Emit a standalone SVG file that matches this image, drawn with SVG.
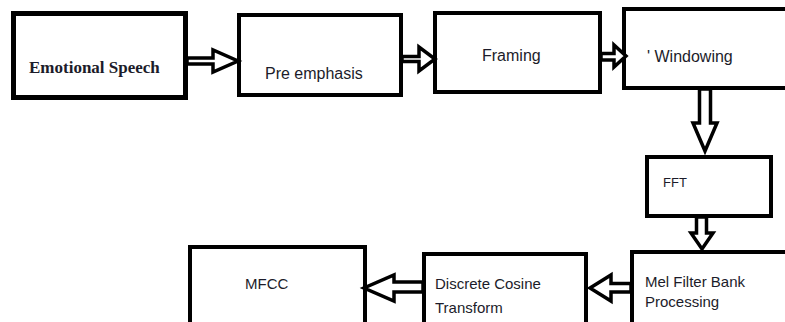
<svg xmlns="http://www.w3.org/2000/svg" width="785" height="322" viewBox="0 0 785 322">
  <style>
    .box { fill: #ffffff; stroke: #000000; stroke-width: 4; }
    .arrow { fill: #ffffff; stroke: #000000; stroke-width: 3.5; stroke-linejoin: miter; }
    .lbl { font-family: "Liberation Sans", Arial, sans-serif; font-size: 15px; fill: #1c1c2a; }
    .serif { font-family: "Liberation Serif", "Times New Roman", serif; font-size: 17px; font-weight: bold; fill: #1c1c2a; }
  </style>
  <rect width="785" height="322" fill="#ffffff"/>

  <g id="emotional-speech">
    <rect class="box" x="13.5" y="13.5" width="172" height="84" style="stroke-width:5"/>
    <text class="serif" x="29" y="73">Emotional Speech</text>
  </g>

  <g id="pre-emphasis">
    <rect class="box" x="239" y="15" width="162" height="80"/>
    <text class="lbl" x="265" y="79" style="font-size:16px">Pre emphasis</text>
  </g>

  <g id="framing">
    <rect class="box" x="435" y="13" width="165" height="79"/>
    <text class="lbl" x="482" y="61" style="font-size:16px">Framing</text>
  </g>

  <g id="windowing">
    <rect class="box" x="624" y="9" width="170" height="79"/>
    <text class="lbl" x="647" y="62" style="font-size:16px">' Windowing</text>
  </g>

  <g id="fft">
    <rect class="box" x="647" y="157" width="124" height="59"/>
    <text class="lbl" x="663" y="187" style="font-size:13px">FFT</text>
  </g>

  <g id="mel-filter-bank">
    <rect class="box" x="632" y="252" width="160" height="80"/>
    <text class="lbl" x="645" y="287">Mel Filter Bank</text>
    <text class="lbl" x="645" y="307">Processing</text>
  </g>

  <g id="dct">
    <rect class="box" x="424" y="254" width="162" height="80"/>
    <text class="lbl" x="435" y="289">Discrete Cosine</text>
    <text class="lbl" x="435" y="313">Transform</text>
  </g>

  <g id="mfcc">
    <rect class="box" x="190" y="247" width="175" height="90"/>
    <text class="lbl" x="245" y="289">MFCC</text>
  </g>

  <g id="connectors">
    <polygon class="arrow" points="187,58 213,58 213,50 238,61 213,72 213,64 187,64"/>
    <polygon class="arrow" points="402,56.5 419,56.5 419,47 435,59 419,71 419,61.5 402,61.5"/>
    <polygon class="arrow" points="601,53.5 614,53.5 614,45 626,56 614,67 614,60 601,60"/>
    <polygon class="arrow" points="699.5,89 699.5,123 693,123 705,151 717,123 710.5,123 710.5,89"/>
    <polygon class="arrow" points="696.5,217 696.5,233 691,233 702,249 713,233 706.5,233 706.5,217"/>
    <polygon class="arrow" points="631,283.5 611,283.5 611,275 590,288 611,301 611,292 631,292"/>
    <polygon class="arrow" points="423,282 394,282 394,275 364,288 394,301 394,292 423,292"/>
  </g>
</svg>
